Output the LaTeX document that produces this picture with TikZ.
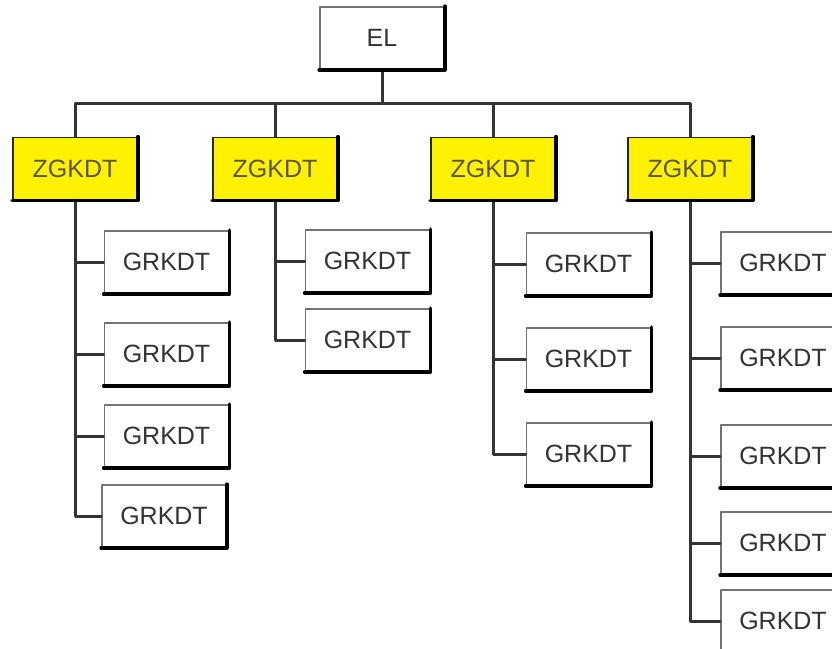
\documentclass[tikz,border=0pt]{standalone}
\usepackage{fontspec}
\setmainfont{Liberation Sans}
\begin{document}
\begin{tikzpicture}[x=1pt,y=-1pt,line join=round,line cap=round]
	\tikzset{box/.style={draw=black!55,line width=1.8pt,fill=white,minimum width=124pt,minimum height=62pt,inner sep=0pt,font=\fontsize{25}{28}\selectfont,text=black!80},
		zbox/.style={box,fill=yellow,draw=black!85,text=black!75!yellow},
		link/.style={line width=3pt,draw=black!80}}
	\clip (0,0) rectangle (832,648);
	% top
	\node[box] (el) at (382,38) {EL};
	\coordinate (bus) at (382,103);
	% leaders
	\foreach \i/\x in {1/75,2/275,3/493,4/690}{
		\node[zbox] (z\i) at (\x,168.5) {ZGKDT};
	}
	% members
	\foreach \n/\x/\y in {g11/166.5/262,g12/166.5/354,g13/166.5/436,g14/164/516,
		g21/367.5/261,g22/367.5/340,
		g31/588.5/264,g32/588.5/359,g33/588.5/454,
		g41/783/263,g42/783/358,g43/783/456,g44/783/543,g45/783/621}{
		\node[box] (\n) at (\x,\y) {GRKDT};
	}
	% links
	\draw[link] (el.south) -- (bus);
	\foreach \i in {1,...,4}{
		\draw[link] (z\i.north) |- (bus);
	}
	\foreach \z/\g in {z1/g11,z1/g12,z1/g13,z1/g14,z2/g21,z2/g22,z3/g31,z3/g32,z3/g33,
		z4/g41,z4/g42,z4/g43,z4/g44,z4/g45}{
		\draw[link] (\z.south) |- (\g.west);
	}
	% shadow edges
	\foreach \n in {el,z1,z2,z3,z4,g11,g12,g13,g14,g21,g22,g31,g32,g33,g41,g42,g43,g44,g45}{
		\draw[line width=3.5pt] (\n.north east) -- (\n.south east) -- (\n.south west);
	}
\end{tikzpicture}
\end{document}
